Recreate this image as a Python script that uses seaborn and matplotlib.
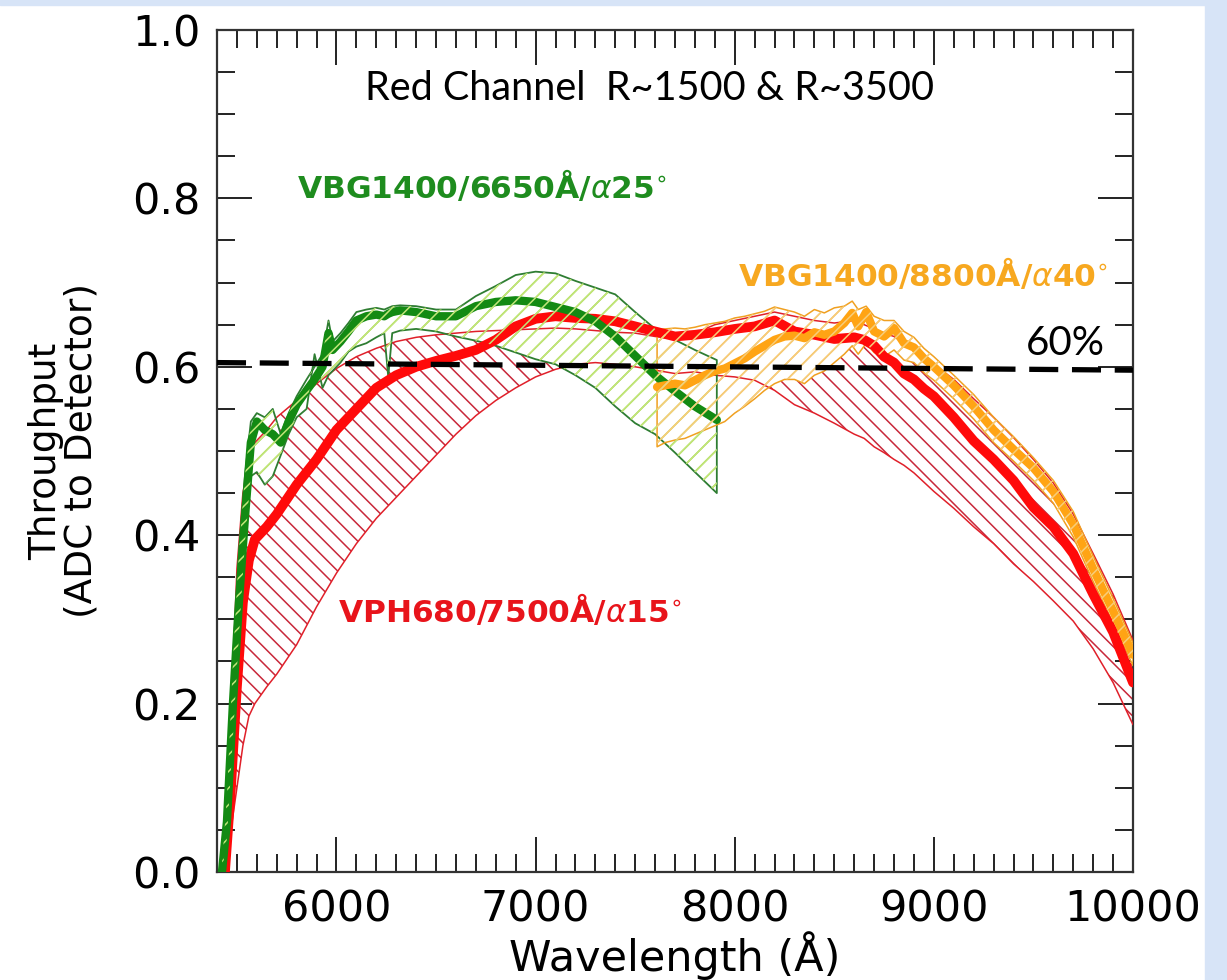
import matplotlib
matplotlib.use("Agg")
import matplotlib.pyplot as plt
import seaborn as sns
from matplotlib.patches import Rectangle
from matplotlib.ticker import MultipleLocator

# VPH680/7500A/a15 (red): mean curve and range
red_wl = [5440, 5470, 5500, 5530, 5560, 5590, 5650, 5700, 5800, 5900, 6000, 6100, 6200, 6300,
          6400, 6500, 6600, 6700, 6800, 6900, 7000, 7100, 7200, 7300, 7400, 7500, 7600, 7700,
          7800, 7900, 8000, 8100, 8200, 8300, 8400, 8500, 8600, 8650, 8700, 8750, 8800, 8850,
          8900, 8950, 9000, 9100, 9200, 9300, 9400, 9500, 9600, 9700, 9800, 9900, 10000]
red_mid = [0.0, 0.10, 0.22, 0.32, 0.37, 0.395, 0.41, 0.425, 0.46, 0.49, 0.525, 0.55, 0.575, 0.59,
           0.60, 0.607, 0.613, 0.62, 0.632, 0.648, 0.657, 0.66, 0.658, 0.657, 0.654, 0.648, 0.642, 0.636,
           0.638, 0.641, 0.645, 0.648, 0.655, 0.642, 0.638, 0.633, 0.635, 0.632, 0.625, 0.612, 0.605, 0.592,
           0.585, 0.574, 0.565, 0.54, 0.512, 0.49, 0.465, 0.433, 0.41, 0.378, 0.33, 0.285, 0.225]
red_lo = [0.0, 0.05, 0.10, 0.15, 0.185, 0.20, 0.22, 0.235, 0.27, 0.315, 0.355, 0.39, 0.42, 0.445,
          0.47, 0.495, 0.52, 0.542, 0.56, 0.575, 0.588, 0.597, 0.603, 0.605, 0.603, 0.60, 0.596, 0.592,
          0.594, 0.59, 0.588, 0.584, 0.572, 0.555, 0.545, 0.533, 0.52, 0.515, 0.505, 0.498, 0.49, 0.483,
          0.474, 0.463, 0.452, 0.432, 0.41, 0.39, 0.366, 0.345, 0.322, 0.298, 0.265, 0.225, 0.175]
red_hi = [0.0, 0.18, 0.36, 0.45, 0.49, 0.51, 0.525, 0.54, 0.56, 0.58, 0.598, 0.612, 0.622, 0.63,
          0.635, 0.638, 0.64, 0.642, 0.643, 0.644, 0.645, 0.646, 0.645, 0.643, 0.641, 0.64, 0.636, 0.633,
          0.64, 0.65, 0.655, 0.66, 0.665, 0.66, 0.655, 0.652, 0.655, 0.65, 0.645, 0.64, 0.636, 0.628,
          0.62, 0.612, 0.603, 0.585, 0.562, 0.54, 0.516, 0.49, 0.462, 0.425, 0.378, 0.33, 0.275]

# VBG1400/6650A/a25 (green)
grn_wl = [5425, 5450, 5480, 5510, 5540, 5570, 5600, 5640, 5680, 5720, 5760, 5800, 5850, 5890,
          5930, 5960, 5980, 6020, 6060, 6100, 6150, 6200, 6240, 6260, 6280, 6320, 6400, 6500,
          6600, 6700, 6800, 6900, 7000, 7100, 7200, 7300, 7400, 7500, 7600, 7700, 7800, 7910]
grn_mid = [0.0, 0.06, 0.20, 0.32, 0.42, 0.51, 0.535, 0.525, 0.52, 0.51, 0.535, 0.555, 0.572, 0.585,
           0.60, 0.64, 0.62, 0.63, 0.642, 0.655, 0.66, 0.662, 0.66, 0.663, 0.665, 0.667, 0.665, 0.66,
           0.66, 0.672, 0.677, 0.679, 0.677, 0.671, 0.665, 0.654, 0.636, 0.613, 0.59, 0.571, 0.553, 0.537]
grn_hi = [0.01, 0.09, 0.25, 0.38, 0.47, 0.535, 0.545, 0.54, 0.55, 0.52, 0.545, 0.565, 0.585, 0.60,
          0.615, 0.655, 0.63, 0.64, 0.652, 0.665, 0.668, 0.67, 0.668, 0.67, 0.672, 0.673, 0.672, 0.668,
          0.668, 0.684, 0.696, 0.709, 0.713, 0.711, 0.702, 0.694, 0.686, 0.665, 0.645, 0.632, 0.62, 0.608]
grn_lo = [0.0, 0.04, 0.16, 0.28, 0.39, 0.47, 0.475, 0.46, 0.47, 0.495, 0.52, 0.54, 0.55, 0.615,
          0.575, 0.59, 0.595, 0.605, 0.618, 0.624, 0.628, 0.635, 0.64, 0.588, 0.64, 0.643, 0.645, 0.642,
          0.636, 0.631, 0.625, 0.617, 0.609, 0.603, 0.59, 0.575, 0.553, 0.533, 0.52, 0.498, 0.475, 0.45]

# VBG1400/8800A/a40 (orange)
org_wl = [7610, 7650, 7700, 7750, 7800, 7850, 7900, 7950, 8000, 8050, 8100, 8150, 8200, 8250,
          8300, 8350, 8400, 8450, 8500, 8550, 8590, 8620, 8660, 8700, 8750, 8800, 8850, 8900,
          8950, 9000, 9100, 9200, 9300, 9400, 9500, 9600, 9700, 9800, 9900, 10000]
org_mid = [0.576, 0.578, 0.58, 0.578, 0.584, 0.59, 0.595, 0.598, 0.604, 0.61, 0.618, 0.625, 0.632, 0.636,
           0.637, 0.634, 0.641, 0.638, 0.642, 0.652, 0.664, 0.648, 0.665, 0.642, 0.636, 0.646, 0.628, 0.623,
           0.61, 0.60, 0.578, 0.553, 0.525, 0.502, 0.48, 0.452, 0.413, 0.36, 0.31, 0.258]
org_hi = [0.644, 0.645, 0.646, 0.645, 0.647, 0.65, 0.652, 0.654, 0.658, 0.66, 0.663, 0.666, 0.671, 0.668,
          0.665, 0.66, 0.668, 0.664, 0.67, 0.672, 0.678, 0.668, 0.672, 0.66, 0.655, 0.655, 0.642, 0.635,
          0.622, 0.612, 0.59, 0.567, 0.54, 0.517, 0.492, 0.465, 0.428, 0.375, 0.325, 0.272]
org_lo = [0.505, 0.51, 0.513, 0.515, 0.52, 0.525, 0.53, 0.535, 0.545, 0.553, 0.562, 0.572, 0.58, 0.585,
          0.585, 0.58, 0.59, 0.595, 0.605, 0.615, 0.625, 0.615, 0.628, 0.617, 0.612, 0.62, 0.608, 0.605,
          0.593, 0.584, 0.562, 0.538, 0.51, 0.488, 0.465, 0.438, 0.398, 0.345, 0.296, 0.245]

# 60% reference line (hand drawn, slightly tilted)
ref_wl = [5400, 10000]
ref_y = [0.605, 0.596]

x_ticks = [6000, 7000, 8000, 9000, 10000]
y_ticks = [0.0, 0.2, 0.4, 0.6, 0.8, 1.0]

sns.set_theme(style="ticks")
plt.rcParams['font.family'] = ['DejaVu Sans']
plt.rcParams['hatch.linewidth'] = 1.1
plt.rcParams['text.color'] = 'black'
plt.rcParams['axes.labelcolor'] = 'black'
plt.rcParams['xtick.labelcolor'] = 'black'
plt.rcParams['ytick.labelcolor'] = 'black'

fig = plt.figure(figsize=(12.27, 9.8), dpi=100)
fig.patches.append(Rectangle((1205 / 1227, 0), 22 / 1227, 1, transform=fig.transFigure,
                             color='#d7e4f7', zorder=-5))
fig.patches.append(Rectangle((0, 975 / 980), 1, 5 / 980, transform=fig.transFigure,
                             color='#d7e4f7', zorder=-5))
ax = fig.add_axes([217 / 1227, 108 / 980, 916 / 1227, 842 / 980])


def outline(wl, lo, hi):
    xs = list(wl) + list(wl[::-1]) + [wl[0]]
    ys = list(hi) + list(lo[::-1]) + [hi[0]]
    return xs, ys


# bands
ax.fill_between(red_wl, red_lo, red_hi, facecolor='none', edgecolor='#c8283a',
                hatch='\\\\', linewidth=0, zorder=1)
ax.fill_between(grn_wl, grn_lo, grn_hi, facecolor='white', edgecolor='#9acd32',
                hatch='//', linewidth=0, zorder=2)
ax.fill_between(org_wl, org_lo, org_hi, facecolor='white', edgecolor='#f2b552',
                hatch='//', linewidth=0, zorder=3)

# band edges
ax.plot(red_wl, red_lo, color='#e0202a', lw=1.1, zorder=4)
ax.plot(red_wl, red_hi, color='#e0202a', lw=1.1, zorder=4)
gx, gy = outline(grn_wl, grn_lo, grn_hi)
ax.plot(gx, gy, color='#2e7d32', lw=1.3, zorder=4)
ox, oy = outline(org_wl, org_lo, org_hi)
ax.plot(ox, oy, color='#f0a020', lw=1.1, zorder=4)

# mean curves
sns.lineplot(x=red_wl, y=red_mid, ax=ax, color='#ff0a0a', linewidth=7, sort=False,
             estimator=None, zorder=5)
sns.lineplot(x=grn_wl, y=grn_mid, ax=ax, color='#138a13', linewidth=6, sort=False,
             estimator=None, zorder=5)
sns.lineplot(x=org_wl, y=org_mid, ax=ax, color='#ffa414', linewidth=6, sort=False,
             estimator=None, zorder=5)

# hatch drawn over the curves again
ax.fill_between(grn_wl, grn_lo, grn_hi, facecolor='none', edgecolor='#c2e67a',
                hatch='//', linewidth=0, zorder=6)
ax.fill_between(org_wl, org_lo, org_hi, facecolor='none', edgecolor='#f7cd7a',
                hatch='//', linewidth=0, zorder=6)

ax.plot(ref_wl, ref_y, color='black', lw=3.8, dashes=(5.5, 2.6), zorder=8)

ax.text(7574, 0.931, 'Red Channel  R~1500 & R~3500', family='Lato', fontsize=28.5,
        ha='center', va='center', color='black')
ax.text(9659, 0.628, '60%', family='Lato', fontsize=29, ha='center', va='center', color='black')
ax.text(5800, 0.815, r'VBG1400/6650Å/$\alpha$25$^{\circ}$', fontsize=22.5, fontweight='bold',
        color='#1e8c1e', ha='left', va='center')
ax.text(8016, 0.71, r'VBG1400/8800Å/$\alpha$40$^{\circ}$', fontsize=22.5, fontweight='bold',
        color='#f7a820', ha='left', va='center')
ax.text(6008, 0.311, r'VPH680/7500Å/$\alpha$15$^{\circ}$', fontsize=22.5, fontweight='bold',
        color='#e8141b', ha='left', va='center')

ax.set_xlim(5400, 10000)
ax.set_ylim(0, 1.0)
ax.set_xticks(x_ticks)
ax.set_yticks(y_ticks)
ax.set_yticklabels([f'{v:.1f}' for v in y_ticks])
ax.xaxis.set_minor_locator(MultipleLocator(100))
ax.yaxis.set_minor_locator(MultipleLocator(0.05))
ax.tick_params(which='both', direction='in', top=True, right=True, width=1.4, color='#222222')
ax.tick_params(which='major', length=25, labelsize=31, pad=12)
ax.tick_params(which='minor', length=13)
for s in ax.spines.values():
    s.set_linewidth(1.6)
    s.set_color('#333333')

ax.set_xlabel('Wavelength (Å)', fontsize=31)
ax.set_ylabel('Throughput\n(ADC to Detector)', fontsize=27, linespacing=1.0)
ax.xaxis.set_label_coords(0.5, -0.07)
ax.yaxis.set_label_coords(-0.128, 0.5)

fig.savefig('out.png', dpi=100)
